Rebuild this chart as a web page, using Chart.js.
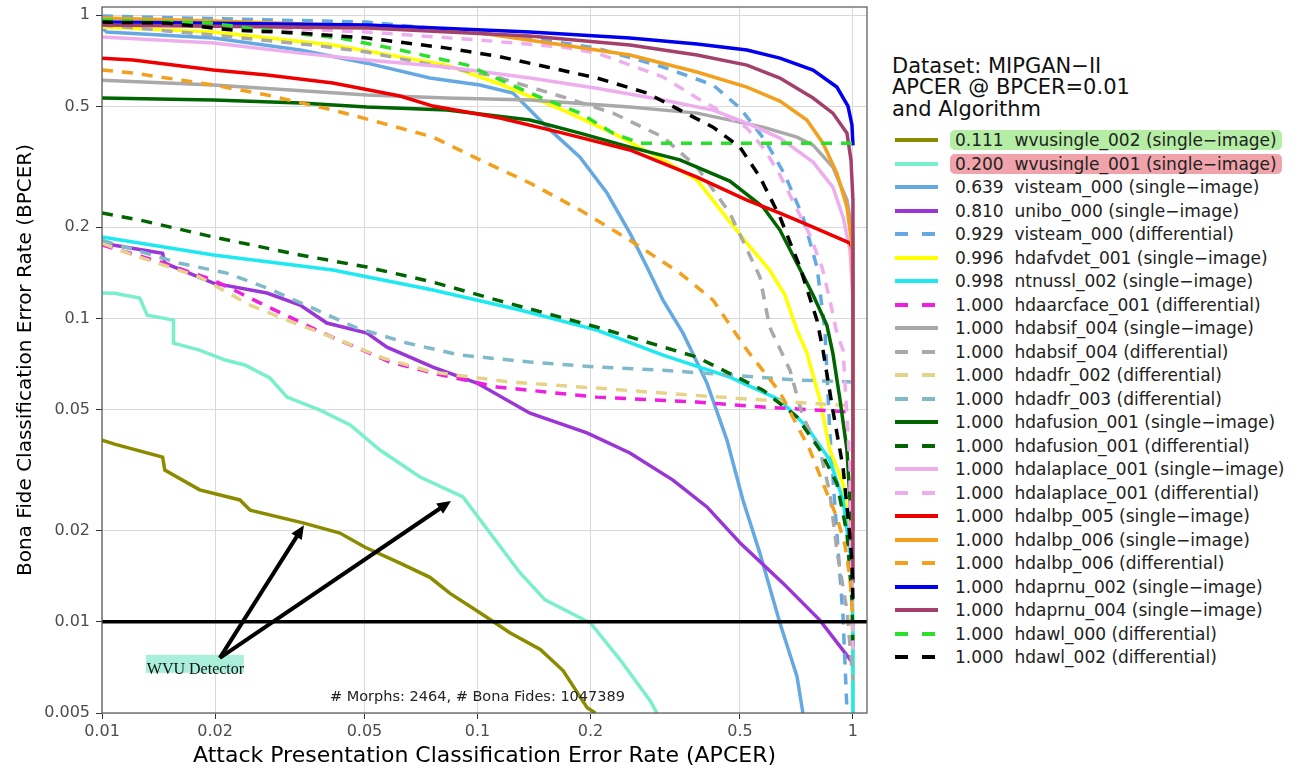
<!DOCTYPE html>
<html>
<head>
<meta charset="utf-8">
<script src="https://cdn.jsdelivr.net/npm/chart.js@4.4.0/dist/chart.umd.min.js"></script>
<style>
  body { margin: 0; background: #fff; width: 1293px; height: 769px; overflow: hidden; font-family: "DejaVu Sans", sans-serif; }
  #wrap { position: absolute; left: 0; top: 0; width: 880px; height: 769px; }
  .ttl { position: absolute; left: 892px; font-size: 21px; line-height: 22px; color: #111; white-space: pre; }
  .row { position: absolute; left: 895px; height: 20px; display: flex; align-items: center; white-space: pre; font-size: 17px; color: #222; }
  .row span { margin-left: 12px; padding: 0 5px; line-height: 20px; border-radius: 5px; }
</style>
</head>
<body>
<div id="wrap"><canvas id="detChart" width="880" height="769"></canvas></div>
<div id="legend"></div>
<script>
// DET curves, points are [APCER, BPCER]
const wvusingle002 = [[0.01,0.0397],[0.0108,0.0385],[0.0145,0.0349],[0.0147,0.0316],[0.0182,0.0272],[0.0233,0.0252],[0.0248,0.0233],[0.0347,0.0211],[0.043,0.0196],[0.0502,0.0176],[0.0622,0.0156],[0.0747,0.014],[0.0845,0.0124],[0.1015,0.0107],[0.122,0.0092],[0.147,0.0081],[0.169,0.0069],[0.196,0.0052],[0.206,0.005]];
const wvusingle001 = [[0.01,0.1212],[0.0108,0.121],[0.0126,0.1167],[0.0132,0.1025],[0.0155,0.0987],[0.0155,0.0829],[0.0182,0.0786],[0.0213,0.0729],[0.024,0.0702],[0.028,0.0636],[0.0311,0.055],[0.0381,0.0498],[0.0458,0.0445],[0.055,0.0368],[0.0703,0.03],[0.0915,0.0258],[0.108,0.0196],[0.1298,0.0145],[0.1513,0.0118],[0.2,0.0099],[0.2396,0.0075],[0.288,0.0055],[0.3006,0.005]];
const visteam000Single = [[0.01,0.906],[0.0103,0.879],[0.0198,0.84],[0.0337,0.767],[0.0508,0.694],[0.0747,0.62],[0.1015,0.588],[0.1243,0.553],[0.138,0.486],[0.1532,0.427],[0.1875,0.34],[0.2213,0.259],[0.2547,0.191],[0.2828,0.1476],[0.3119,0.1149],[0.3527,0.0894],[0.4085,0.0612],[0.4618,0.0397],[0.5093,0.0252],[0.5653,0.0168],[0.639,0.0099],[0.7095,0.0066],[0.7358,0.005]];
const unibo000 = [[0.01,0.177],[0.0145,0.164],[0.0147,0.152],[0.0198,0.1307],[0.0275,0.1212],[0.0337,0.1106],[0.0397,0.0965],[0.0508,0.0894],[0.0574,0.0804],[0.0761,0.0691],[0.0997,0.0612],[0.138,0.0487],[0.1957,0.0419],[0.2547,0.036],[0.3316,0.0293],[0.4085,0.0239],[0.5,0.0182],[0.651,0.0134],[0.817,0.0101],[1.0,0.0073]];
const visteam000Diff = [[0.01,0.992],[0.0508,0.948],[0.0747,0.906],[0.138,0.84],[0.208,0.778],[0.312,0.674],[0.424,0.588],[0.5,0.494],[0.583,0.387],[0.659,0.297],[0.736,0.216],[0.802,0.1476],[0.842,0.0915],[0.868,0.0419],[0.906,0.0196],[0.941,0.0104],[0.964,0.0051]];
const hdafvdet001 = [[0.01,0.913],[0.0198,0.879],[0.0412,0.796],[0.0829,0.684],[0.1127,0.597],[0.169,0.486],[0.2296,0.408],[0.312,0.333],[0.3842,0.286],[0.4506,0.2224],[0.522,0.177],[0.6,0.1443],[0.659,0.1194],[0.7095,0.0915],[0.754,0.0768],[0.817,0.0538],[0.868,0.0368],[0.941,0.0286],[0.982,0.0196],[0.994,0.0137],[0.996,0.01],[1.0,0.005]];
const ntnussl002 = [[0.01,0.1854],[0.0198,0.1617],[0.0412,0.1443],[0.0761,0.124],[0.1298,0.1065],[0.208,0.0915],[0.312,0.0757],[0.47,0.064],[0.639,0.0538],[0.754,0.0438],[0.868,0.0341],[0.941,0.0252],[0.994,0.0151],[1.0,0.0092],[1.0,0.005]];
const hdaarcface001 = [[0.01,0.1745],[0.0143,0.1533],[0.0198,0.1337],[0.0233,0.1212],[0.0264,0.1123],[0.0388,0.0894],[0.0585,0.0718],[0.0761,0.066],[0.1127,0.0594],[0.208,0.055],[0.3842,0.053],[0.576,0.051],[1.0,0.0491]];
const hdabsif004Single = [[0.01,0.61],[0.0198,0.588],[0.0508,0.545],[0.0829,0.5325],[0.138,0.5245],[0.2547,0.4973],[0.3842,0.475],[0.576,0.427],[0.7095,0.396],[0.783,0.3726],[0.884,0.3153],[0.964,0.2455],[1.0,0.188],[1.0,0.1]];
const hdabsif004Diff = [[0.01,0.927],[0.0198,0.859],[0.0365,0.796],[0.0508,0.755],[0.069,0.7],[0.108,0.634],[0.169,0.537],[0.2296,0.475],[0.312,0.396],[0.3842,0.3153],[0.47,0.2224],[0.5653,0.1368],[0.6,0.0936],[0.6796,0.0675],[0.736,0.0473],[0.817,0.0368],[0.868,0.0265],[0.906,0.0172],[0.964,0.0109],[1.0,0.0064]];
const hdadfr002 = [[0.01,0.177],[0.0117,0.164],[0.0182,0.1368],[0.0248,0.1106],[0.0311,0.0987],[0.043,0.0848],[0.056,0.074],[0.0761,0.0665],[0.122,0.0617],[0.208,0.0589],[0.312,0.0567],[0.576,0.0538],[1.0,0.0514]];
const hdadfr003 = [[0.01,0.181],[0.0161,0.152],[0.0215,0.141],[0.0275,0.126],[0.0358,0.109],[0.0478,0.0929],[0.0649,0.0829],[0.0898,0.0757],[0.138,0.0718],[0.208,0.0691],[0.312,0.0675],[0.47,0.065],[0.7095,0.0626],[1.0,0.0617]];
const hdafusion001Single = [[0.01,0.5325],[0.0198,0.5245],[0.0337,0.5128],[0.0508,0.4973],[0.0829,0.486],[0.138,0.4506],[0.1875,0.408],[0.2547,0.367],[0.3461,0.333],[0.47,0.2836],[0.576,0.2328],[0.639,0.1955],[0.7095,0.152],[0.783,0.1194],[0.852,0.095],[0.884,0.0768],[0.924,0.0538],[0.964,0.0368],[0.982,0.0252],[1.0,0.0134]];
const hdafusion001Diff = [[0.01,0.2224],[0.0126,0.211],[0.0198,0.1854],[0.0337,0.1617],[0.0508,0.1476],[0.0761,0.1317],[0.1127,0.1149],[0.208,0.0936],[0.3842,0.0745],[0.576,0.058],[0.7095,0.0473],[0.817,0.0368],[0.906,0.0286],[0.964,0.0196],[0.994,0.0118],[1.0,0.0081]];
const hdalaplace001Single = [[0.01,0.846],[0.0198,0.809],[0.0337,0.749],[0.0508,0.711],[0.0829,0.674],[0.138,0.62],[0.208,0.574],[0.312,0.5245],[0.424,0.486],[0.522,0.4404],[0.639,0.393],[0.783,0.3276],[0.884,0.271],[0.941,0.216],[0.982,0.168],[1.0,0.1149],[1.0,0.02]];
const hdalaplace001Diff = [[0.01,0.963],[0.0198,0.927],[0.0508,0.879],[0.1015,0.827],[0.169,0.784],[0.208,0.749],[0.312,0.625],[0.3842,0.5325],[0.424,0.4973],[0.522,0.424],[0.583,0.359],[0.639,0.297],[0.7007,0.2363],[0.768,0.188],[0.827,0.1476],[0.868,0.1149],[0.906,0.0894],[0.941,0.0786],[0.964,0.0473],[0.982,0.0323],[0.982,0.0221],[0.994,0.0134],[1.0,0.0081]];
const hdalbp005 = [[0.01,0.721],[0.0121,0.711],[0.0198,0.659],[0.0275,0.634],[0.0412,0.597],[0.0622,0.541],[0.0761,0.501],[0.1148,0.4575],[0.169,0.408],[0.2547,0.359],[0.3842,0.2923],[0.522,0.2455],[0.639,0.2224],[0.783,0.2],[0.982,0.177],[1.0,0.168]];
const hdalbp006Single = [[0.01,0.977],[0.0198,0.955],[0.0508,0.92],[0.1015,0.872],[0.169,0.796],[0.2547,0.738],[0.3842,0.649],[0.522,0.579],[0.639,0.5205],[0.754,0.4506],[0.832,0.378],[0.906,0.3013],[0.964,0.2328],[0.994,0.1745],[1.0,0.124],[1.0,0.02]];
const hdalbp006Diff = [[0.01,0.659],[0.0121,0.644],[0.0198,0.588],[0.0275,0.545],[0.0412,0.486],[0.0508,0.454],[0.0761,0.396],[0.1015,0.333],[0.138,0.2793],[0.1875,0.2276],[0.2547,0.181],[0.3461,0.141],[0.424,0.1149],[0.522,0.0786],[0.639,0.0571],[0.768,0.0368],[0.832,0.0286],[0.906,0.0221],[0.952,0.0179],[0.982,0.014],[1.0,0.0101]];
const hdaprnu002 = [[0.01,0.948],[0.0508,0.927],[0.138,0.879],[0.2547,0.84],[0.3842,0.802],[0.522,0.767],[0.639,0.721],[0.783,0.659],[0.906,0.579],[0.97,0.501],[0.994,0.434],[1.0,0.372]];
const hdaprnu004 = [[0.01,0.927],[0.0508,0.906],[0.138,0.853],[0.2547,0.796],[0.3842,0.738],[0.522,0.684],[0.639,0.62],[0.783,0.5325],[0.884,0.475],[0.964,0.408],[0.988,0.333],[1.0,0.2455],[1.0,0.0137]];
const hdawl000 = [[0.01,0.963],[0.0194,0.941],[0.0269,0.892],[0.043,0.84],[0.0622,0.767],[0.0938,0.684],[0.138,0.553],[0.1875,0.475],[0.2296,0.408],[0.2709,0.378],[1.0,0.378]];
const hdawl002 = [[0.01,0.948],[0.0149,0.941],[0.0223,0.892],[0.0337,0.872],[0.0508,0.84],[0.0829,0.778],[0.1127,0.732],[0.1532,0.674],[0.208,0.62],[0.2828,0.553],[0.3461,0.486],[0.424,0.427],[0.5,0.367],[0.5653,0.2923],[0.639,0.216],[0.7226,0.1476],[0.802,0.0987],[0.832,0.0786],[0.884,0.0498],[0.941,0.0323],[0.97,0.0221],[0.994,0.0159],[1.0,0.0118]];

const curves = [wvusingle002, wvusingle001, visteam000Single, unibo000, visteam000Diff, hdafvdet001, ntnussl002,
  hdaarcface001, hdabsif004Single, hdabsif004Diff, hdadfr002, hdadfr003, hdafusion001Single, hdafusion001Diff,
  hdalaplace001Single, hdalaplace001Diff, hdalbp005, hdalbp006Single, hdalbp006Diff, hdaprnu002, hdaprnu004, hdawl000, hdawl002];
const seriesNames = ["wvusingle_002 (single\u2212image)", "wvusingle_001 (single\u2212image)", "visteam_000 (single\u2212image)",
  "unibo_000 (single\u2212image)", "visteam_000 (differential)", "hdafvdet_001 (single\u2212image)", "ntnussl_002 (single\u2212image)",
  "hdaarcface_001 (differential)", "hdabsif_004 (single\u2212image)", "hdabsif_004 (differential)", "hdadfr_002 (differential)",
  "hdadfr_003 (differential)", "hdafusion_001 (single\u2212image)", "hdafusion_001 (differential)", "hdalaplace_001 (single\u2212image)",
  "hdalaplace_001 (differential)", "hdalbp_005 (single\u2212image)", "hdalbp_006 (single\u2212image)", "hdalbp_006 (differential)",
  "hdaprnu_002 (single\u2212image)", "hdaprnu_004 (single\u2212image)", "hdawl_000 (differential)", "hdawl_002 (differential)"];
const apcerAtBpcer = ["0.111", "0.200", "0.639", "0.810", "0.929", "0.996", "0.998", "1.000", "1.000", "1.000", "1.000",
  "1.000", "1.000", "1.000", "1.000", "1.000", "1.000", "1.000", "1.000", "1.000", "1.000", "1.000", "1.000"];

const lineColors = ["#8b8b00", "#79efcb", "#65a9e3", "#9a35d6", "#65a9e3", "#ffff00", "#1ee8f0", "#f01ee0", "#a9a9a9", "#a9a9a9",
  "#e6d38a", "#80b9c8", "#006400", "#006400", "#eeaeee", "#eeaeee", "#ee0000", "#f2a01e", "#f2a01e", "#0000ee", "#a3406b",
  "#2be02b", "#000000"];
const dashed = [false, false, false, false, true, false, false, true, false, true, true, true, false, true, false, true,
  false, false, true, false, false, true, true];
const highlight = { 0: "#b5eda5", 1: "#f0a3aa" };

const xTickValues = [0.01, 0.02, 0.05, 0.1, 0.2, 0.5, 1];
const xTickLabels = ["0.01", "0.02", "0.05", "0.1", "0.2", "0.5", "1"];
const yTickValues = [0.005, 0.01, 0.02, 0.05, 0.1, 0.2, 0.5, 1];
const yTickLabels = ["0.005", "0.01", "0.02", "0.05", "0.1", "0.2", "0.5", "1"];
const xMin = 0.01, xMax = 1.09, yMin = 0.005, yMax = 1.063;
const threshold = 0.01;

// annotation: "WVU Detector" label with arrows to the two WVU curves
const arrowFrom = [0.0206, 0.0076];
const arrowTips = [[0.0345, 0.0208], [0.085, 0.025]];
const arrowLabel = "WVU Detector";
const sampleNote = "# Morphs: 2464, # Bona Fides: 1047389";

const datasets = curves.map((pts, i) => ({
  label: seriesNames[i],
  data: pts.map(p => ({ x: p[0], y: p[1] })),
  borderColor: lineColors[i],
  borderWidth: 3.5,
  borderDash: dashed[i] ? [11, 9] : [],
  pointRadius: 0,
  fill: false,
  tension: 0,
  order: curves.length - i
}));
datasets.push({
  label: "threshold",
  data: [{ x: xMin, y: threshold }, { x: xMax, y: threshold }],
  borderColor: "#000",
  borderWidth: 3.5,
  pointRadius: 0,
  order: -1
});

const overlay = {
  id: "overlay",
  afterDatasetsDraw(chart) {
    const ctx = chart.ctx, a = chart.chartArea;
    const xs = chart.scales.x, ys = chart.scales.y;
    ctx.save();
    ctx.strokeStyle = "#555";
    ctx.lineWidth = 1.2;
    ctx.strokeRect(a.left, a.top, a.right - a.left, a.bottom - a.top);

    ctx.fillStyle = "#222";
    ctx.font = '14.5px "DejaVu Sans"';
    ctx.textAlign = "center";
    ctx.textBaseline = "middle";
    ctx.fillText(sampleNote, xs.getPixelForValue(0.1), a.bottom - 16);

    const ox = xs.getPixelForValue(arrowFrom[0]);
    const oy = ys.getPixelForValue(arrowFrom[1]);
    ctx.fillStyle = "#a9efda";
    ctx.fillRect(ox - 74, oy - 3, 98, 18);
    ctx.fillStyle = "#111";
    ctx.font = '16px "Liberation Serif"';
    ctx.textAlign = "left";
    ctx.textBaseline = "alphabetic";
    ctx.fillText(arrowLabel, ox - 73, oy + 16);

    ctx.strokeStyle = "#000";
    ctx.fillStyle = "#000";
    ctx.lineWidth = 4;
    arrowTips.forEach(t => {
      const tx = xs.getPixelForValue(t[0]), ty = ys.getPixelForValue(t[1]);
      const ang = Math.atan2(ty - oy, tx - ox);
      const head = 15;
      ctx.beginPath();
      ctx.moveTo(ox, oy);
      ctx.lineTo(tx - head * 0.8 * Math.cos(ang), ty - head * 0.8 * Math.sin(ang));
      ctx.stroke();
      ctx.beginPath();
      ctx.moveTo(tx, ty);
      ctx.lineTo(tx - head * Math.cos(ang - 0.42), ty - head * Math.sin(ang - 0.42));
      ctx.lineTo(tx - head * Math.cos(ang + 0.42), ty - head * Math.sin(ang + 0.42));
      ctx.closePath();
      ctx.fill();
    });
    ctx.restore();
  }
};

const tickFont = { family: "DejaVu Sans", size: 16 };
const gridOpts = { color: "#d9d9d9", lineWidth: 1, tickLength: 6, tickColor: "#333", drawTicks: true };

new Chart(document.getElementById("detChart"), {
  type: "line",
  data: { datasets: datasets },
  options: {
    responsive: false,
    animation: false,
    devicePixelRatio: 1,
    layout: { padding: { top: 7, right: 13, left: 0, bottom: 0 } },
    plugins: { legend: { display: false }, tooltip: { enabled: false } },
    scales: {
      x: {
        type: "logarithmic", min: xMin, max: xMax,
        afterBuildTicks: s => { s.ticks = xTickValues.map(v => ({ value: v })); },
        afterFit: s => { s.height = 56; s.paddingLeft = 0; s.paddingRight = 0; },
        ticks: { callback: v => xTickLabels[xTickValues.indexOf(v)], color: "#4d4d4d", font: tickFont, padding: 3, maxRotation: 0, autoSkip: false },
        grid: gridOpts,
        border: { display: false },
        title: { display: true, text: "Attack Presentation Classification Error Rate (APCER)", color: "#000",
          font: { family: "DejaVu Sans", size: 22, lineHeight: 1 }, padding: { top: 0, bottom: 2 } }
      },
      y: {
        type: "logarithmic", min: yMin, max: yMax,
        afterBuildTicks: s => { s.ticks = yTickValues.map(v => ({ value: v })); },
        afterFit: s => { s.width = 102; s.paddingTop = 0; s.paddingBottom = 0; },
        ticks: { callback: v => yTickLabels[yTickValues.indexOf(v)], color: "#4d4d4d", font: tickFont, padding: 6, autoSkip: false },
        grid: gridOpts,
        border: { display: false },
        title: { display: true, text: "Bona Fide Classification Error Rate (BPCER)", color: "#000",
          font: { family: "DejaVu Sans", size: 20, lineHeight: 1 }, padding: { top: 16, bottom: 0 } }
      }
    }
  },
  plugins: [overlay]
});

// legend (title + keys), built from the same arrays
const legendEl = document.getElementById("legend");
["Dataset: MIPGAN\u2212II", "APCER @ BPCER=0.01", "and Algorithm"].forEach((t, i) => {
  const d = document.createElement("div");
  d.className = "ttl";
  d.style.top = [55, 76, 98][i] + "px";
  d.textContent = t;
  legendEl.appendChild(d);
});
seriesNames.forEach((name, i) => {
  const row = document.createElement("div");
  row.className = "row";
  row.style.top = (130 + 23.5 * i) + "px";
  const dash = dashed[i] ? 'stroke-dasharray="13 14"' : "";
  row.innerHTML = `<svg width="43" height="6"><line x1="0" y1="3" x2="43" y2="3" stroke="${lineColors[i]}" stroke-width="4" ${dash}/></svg>` +
    `<span style="background:${highlight[i] || "transparent"}">${apcerAtBpcer[i]}  ${name}</span>`;
  legendEl.appendChild(row);
});
</script>
</body>
</html>
